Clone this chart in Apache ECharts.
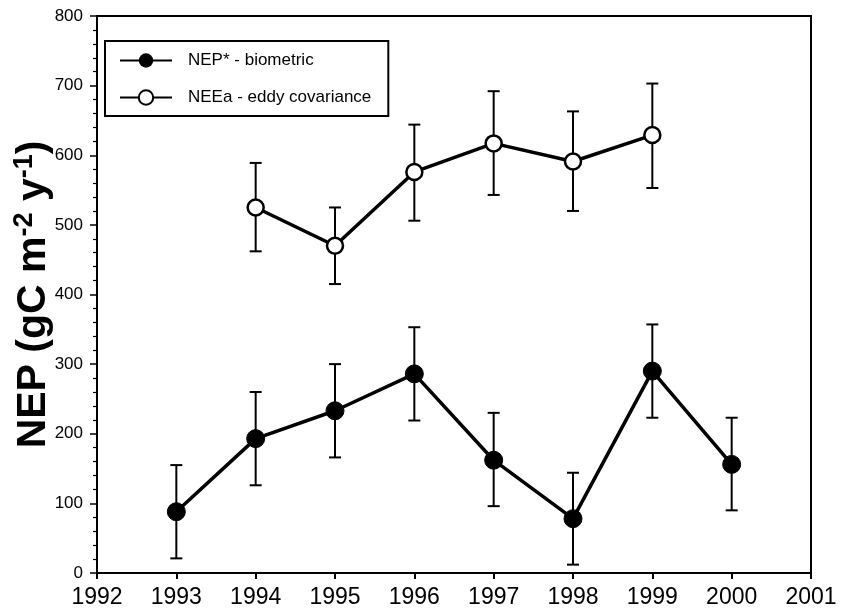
<!DOCTYPE html>
<html>
<head>
<meta charset="utf-8">
<script src="https://cdn.jsdelivr.net/npm/echarts@6/dist/echarts.min.js"></script>
<style>html,body{margin:0;padding:0;background:#fff;}#c{width:841px;height:609px;}</style>
</head>
<body>
<div id="c"></div>
<script>
const nepYears = [1993, 1994, 1995, 1996, 1997, 1998, 1999, 2000];
const nepValues = [88, 193, 233, 286, 162, 78, 290, 156];
const nepLow = [21, 126, 166, 219, 96, 12, 223, 90];
const nepHigh = [155, 260, 300, 353, 230, 144, 357, 223];

const neeYears = [1994, 1995, 1996, 1997, 1998, 1999];
const neeValues = [525, 470, 576, 617, 591, 629];
const neeLow = [462, 415, 506, 543, 520, 553];
const neeHigh = [589, 525, 644, 692, 663, 703];

const seriesNames = ['NEP* - biometric', 'NEEa - eddy covariance'];

const chart = echarts.init(document.getElementById('c'), null, {renderer: 'canvas'});

function pairs(xs, ys) { return xs.map((x, i) => [x, ys[i]]); }
function errData(xs, lo, hi) { return xs.map((x, i) => [x, lo[i], hi[i]]); }

function errRender(params, api) {
  const x = api.value(0);
  const lo = api.coord([x, api.value(1)]);
  const hi = api.coord([x, api.value(2)]);
  const hw = 6;
  const st = {stroke: '#000', lineWidth: 2};
  return {
    type: 'group',
    children: [
      {type: 'line', shape: {x1: lo[0], y1: lo[1], x2: hi[0], y2: hi[1]}, style: st},
      {type: 'line', shape: {x1: lo[0] - hw, y1: lo[1], x2: lo[0] + hw, y2: lo[1]}, style: st},
      {type: 'line', shape: {x1: hi[0] - hw, y1: hi[1], x2: hi[0] + hw, y2: hi[1]}, style: st}
    ]
  };
}

const FF = 'Liberation Sans, Arial, sans-serif';

const option = {
  animation: false,
  backgroundColor: '#fff',
  grid: {left: 97, right: 30, top: 16, bottom: 36, outerBoundsMode: 'none', containLabel: false, show: true, borderColor: '#000', borderWidth: 2, backgroundColor: 'transparent'},
  legend: {
    left: 105, top: 41,
    orient: 'vertical',
    data: seriesNames,
    borderColor: '#000', borderWidth: 2,
    padding: [11, 17, 10, 14],
    itemWidth: 52, itemHeight: 18, itemGap: 20,
    textStyle: {fontFamily: FF, fontSize: 17, color: '#000', padding: [0, 0, 0, 11]}
  },
  xAxis: {
    type: 'value', min: 1992, max: 2001, interval: 1,
    axisLine: {lineStyle: {color: '#000', width: 2}},
    axisTick: {inside: false, length: 6, lineStyle: {color: '#000', width: 2}},
    axisLabel: {fontFamily: FF, fontSize: 23, color: '#000', margin: 13, formatter: v => String(v)},
    splitLine: {show: false}
  },
  yAxis: {
    type: 'value', min: 0, max: 800, interval: 100,
    name: '{a|NEP (gC m}{s|-2}{a| y}{s|-1}{a|)}',
    nameLocation: 'middle', nameRotate: 90, nameGap: 40, nameMoveOverlap: false,
    nameTextStyle: {
      rich: {
        a: {fontFamily: FF, fontSize: 41, fontWeight: 'bold', color: '#000', lineHeight: 46},
        s: {fontFamily: FF, fontSize: 27, fontWeight: 'bold', color: '#000', lineHeight: 46, padding: [0, 0, 19, 0]}
      }
    },
    axisLine: {show: true, lineStyle: {color: '#000', width: 2}},
    axisTick: {inside: false, length: 7, lineStyle: {color: '#000', width: 1.5}},
    minorTick: {show: true, splitNumber: 5, length: 4, lineStyle: {color: '#000', width: 1.2}},
    axisLabel: {fontFamily: FF, fontSize: 17, color: '#000', margin: 14},
    splitLine: {show: false}
  },
  series: [
    {
      name: seriesNames[0], type: 'line', data: pairs(nepYears, nepValues),
      symbol: 'circle', symbolSize: 18, z: 5,
      lineStyle: {color: '#000', width: 3.5},
      itemStyle: {color: '#000', borderColor: '#000'}
    },
    {
      name: seriesNames[1], type: 'line', data: pairs(neeYears, neeValues),
      symbol: 'circle', symbolSize: 16, z: 5,
      lineStyle: {color: '#000', width: 3.5},
      itemStyle: {color: '#fff', borderColor: '#000', borderWidth: 2.5}
    },
    {type: 'custom', renderItem: errRender, data: errData(nepYears, nepLow, nepHigh), z: 3, silent: true},
    {type: 'custom', renderItem: errRender, data: errData(neeYears, neeLow, neeHigh), z: 3, silent: true}
  ]
};
chart.setOption(option);
</script>
</body>
</html>
